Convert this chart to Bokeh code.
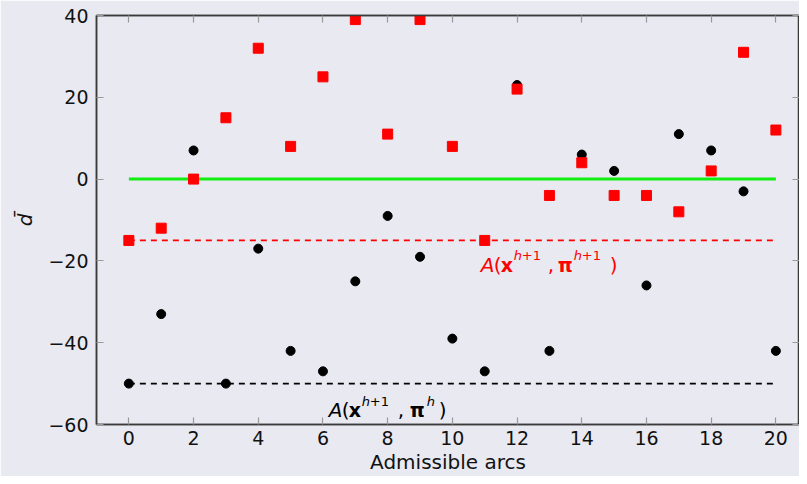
from bokeh.plotting import figure
from bokeh.models import Range1d, LinearAxis, FixedTicker, Label
from bokeh.embed import file_html
from bokeh.resources import INLINE

# ---- data ----
arcs = list(range(21))
d_pi_h = [-50, -33, 7, -50, -17, -42, -47, -25, -9, -19, -39, -47, 23, -42, 6, 2, -26, 11, 7, -3, -42]
d_pi_h1 = [-15, -12, 0, 15, 32, 8, 25, 39, 11, 39, 8, -15, 22, -4, 4, -4, -4, -8, 2, 31, 12]
zero_level = 0
level_pi_h1 = -15
level_pi_h = -50
x_ticks = [0, 2, 4, 6, 8, 10, 12, 14, 16, 18, 20]
y_ticks = [-60, -40, -20, 0, 20, 40]
y_tick_labels = ["\u221260", "\u221240", "\u221220", "0", "20", "40"]
x_label = "Admissible arcs"
y_label = "d\u0304"

BG = "#e9e9f2"
FONT = "DejaVu Sans"

p = figure(width=799, height=476, output_backend="svg", toolbar_location=None,
           x_range=Range1d(-1, 20.73), y_range=Range1d(-60, 40),
           min_border_left=96, min_border_top=15, min_border_right=0, min_border_bottom=52)
p.background_fill_color = BG
p.border_fill_color = BG
p.outline_line_color = "#3a3a3a"
p.outline_line_width = 1.5
p.grid.visible = False

def style_axis(ax, labels=True):
    ax.axis_line_color = "#3a3a3a"
    ax.axis_line_width = 1.5
    ax.major_tick_in = 7
    ax.major_tick_out = 0
    ax.major_tick_line_color = "#999999"
    ax.major_tick_line_width = 1.2
    ax.minor_tick_line_color = None
    ax.major_label_text_font = FONT
    ax.major_label_text_color = "#111111"
    if labels:
        ax.major_label_text_font_size = "19px"
        ax.major_label_standoff = 6
    else:
        ax.major_label_text_font_size = "0px"
        ax.major_label_standoff = 0
        ax.axis_label = None

xa = p.xaxis[0]
xa.ticker = FixedTicker(ticks=x_ticks)
style_axis(xa)
xa.axis_label = x_label
xa.axis_label_text_font = FONT
xa.axis_label_text_font_style = "normal"
xa.axis_label_text_font_size = "20px"
xa.axis_label_standoff = 2
xa.axis_label_text_color = "#111111"

ya = p.yaxis[0]
ya.ticker = FixedTicker(ticks=y_ticks)
ya.major_label_overrides = {t: s for t, s in zip(y_ticks, y_tick_labels)}
style_axis(ya)
ya.major_label_standoff = 8
ya.axis_label = y_label
ya.axis_label_text_font = FONT
ya.axis_label_text_font_style = "italic"
ya.axis_label_text_font_size = "20px"
ya.axis_label_standoff = 8
ya.axis_label_text_color = "#111111"

top = LinearAxis(ticker=FixedTicker(ticks=x_ticks))
style_axis(top, labels=False)
top.major_label_overrides = {t: "" for t in x_ticks}
p.add_layout(top, "above")
right = LinearAxis(ticker=FixedTicker(ticks=y_ticks))
style_axis(right, labels=False)
right.major_label_overrides = {t: "" for t in y_ticks}
p.add_layout(right, "right")

x0, x1 = arcs[0], arcs[-1]
p.line([x0, x1], [zero_level, zero_level], line_color="#11ee11", line_width=3)
p.line([x0, x1], [level_pi_h1, level_pi_h1], line_color="#ff0000", line_width=1.8, line_dash="6 5")
p.line([x0, x1], [level_pi_h, level_pi_h], line_color="#000000", line_width=1.8, line_dash="6 5")

p.scatter(arcs, d_pi_h, marker="circle", size=9, fill_color="black", line_color="black")
p.scatter(arcs, d_pi_h1, marker="square", size=10, fill_color="#ff0000", line_color="#ff0000")

def formula(x, y, color, last_sup, offs):
    parts = [("A", "italic", 20, 0, 0), ("(", "normal", 20, 13, 0), ("x", "bold", 19, 20, 0),
             ("h", "italic", 13, 33, 9), ("+1", "normal", 13, 41, 9),
             (",", "normal", 20, offs[0], 0), ("\u03c0", "bold", 19, offs[1], 0)]
    if last_sup == "h+1":
        parts += [("h", "italic", 13, offs[2], 9), ("+1", "normal", 13, offs[2] + 8, 9)]
    else:
        parts += [("h", "italic", 13, offs[2], 9)]
    parts += [(")", "normal", 20, offs[3], 0)]
    for txt, st, sz, dx, dy in parts:
        p.add_layout(Label(x=x, y=y, text=txt, x_offset=dx, y_offset=dy,
                           text_font=FONT, text_font_style=st, text_font_size=f"{sz}px",
                           text_color=color, text_baseline="alphabetic", text_align="left"))

formula(10.88, -21.0, "#ff0000", "h+1", (67, 77, 93, 129))
formula(6.18, -56.5, "#000000", "h", (69, 81, 98, 110))

open("out.html", "w").write(file_html(p, INLINE))
